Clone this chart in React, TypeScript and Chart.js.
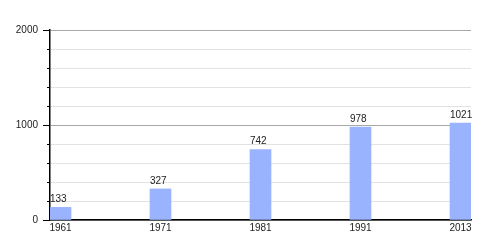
import React, { useEffect, useRef } from "react";
import { Chart, registerables } from "chart.js";

Chart.register(...registerables);

const years = ["1961", "1971", "1981", "1991", "2013"];
const population = [133, 327, 742, 978, 1021];
const yMajorTicks = [0, 1000, 2000];

const FONT = "'Liberation Sans', Arial, sans-serif";

const valueLabels = {
  id: "valueLabels",
  afterDatasetsDraw(chart: any) {
    const ctx = chart.ctx;
    const meta = chart.getDatasetMeta(0);
    ctx.save();
    ctx.font = `10px ${FONT}`;
    ctx.fillStyle = "#222";
    ctx.textAlign = "left";
    ctx.textBaseline = "bottom";
    meta.data.forEach((bar: any, i: number) => {
      const left = bar.x - bar.width / 2;
      ctx.fillText(String(population[i]), left, bar.y - 3);
    });
    ctx.restore();
  },
};

const yTickMarks = {
  id: "yTickMarks",
  afterDraw(chart: any) {
    const ctx = chart.ctx;
    const y = chart.scales.y;
    const x0 = chart.chartArea.left;
    ctx.save();
    ctx.strokeStyle = "#000";
    ctx.lineWidth = 1;
    y.ticks.forEach((t: any) => {
      const py = Math.round(y.getPixelForValue(t.value)) + 0.5;
      const major = yMajorTicks.includes(t.value);
      ctx.beginPath();
      ctx.moveTo(x0 - (major ? 7 : 3), py);
      ctx.lineTo(x0, py);
      ctx.stroke();
    });
    ctx.restore();
  },
};

export default function App() {
  const ref = useRef<HTMLCanvasElement>(null);
  useEffect(() => {
    if (!ref.current) return;
    const chart = new Chart(ref.current, {
      type: "bar",
      data: {
        datasets: [
          {
            data: population.map((v, i) => ({ x: i, y: v })),
            backgroundColor: "#9ab3ff",
            barThickness: 21,
          },
        ],
      },
      options: {
        animation: false,
        responsive: false,
        maintainAspectRatio: false,
        layout: { padding: { left: 0, right: 29, top: 30, bottom: 0 } },
        plugins: { legend: { display: false }, tooltip: { enabled: false } },
        scales: {
          x: {
            type: "linear",
            offset: false,
            min: -0.105,
            max: 4.105,
            afterBuildTicks: (axis: any) => {
              axis.ticks = years.map((_, i) => ({ value: i }));
            },
            afterFit: (s: any) => {
              s.height = 30;
            },
            ticks: {
              callback: (v: any) => years[v] ?? "",
              font: { family: FONT, size: 10 },
              color: "#222",
              padding: 2,
              maxRotation: 0,
              autoSkip: false,
            },
            grid: { display: false, drawTicks: false, offset: false },
            border: { display: true, color: "#000", width: 1.5 },
          },
          y: {
            min: 0,
            max: 2000,
            afterBuildTicks: (axis: any) => {
              const t = [];
              for (let v = 0; v <= 2000; v += 200) t.push({ value: v });
              axis.ticks = t;
            },
            afterFit: (s: any) => {
              s.width = 50;
            },
            ticks: {
              callback: (v: any) => (yMajorTicks.includes(v) ? String(v) : ""),
              font: { family: FONT, size: 10 },
              color: "#222",
              padding: 12,
              autoSkip: false,
            },
            grid: {
              drawTicks: false,
              color: (c: any) =>
                c.tick && yMajorTicks.includes(c.tick.value) ? "#a8a8a8" : "#e2e2e2",
            },
            border: { display: true, color: "#000", width: 1.5 },
          },
        },
      },
      plugins: [valueLabels, yTickMarks],
    });
    return () => chart.destroy();
  }, []);
  return (
    <div style={{ position: "fixed", left: 0, top: 0, width: 500, height: 250, background: "#fff" }}>
      <canvas ref={ref} width={500} height={250} />
    </div>
  );
}
